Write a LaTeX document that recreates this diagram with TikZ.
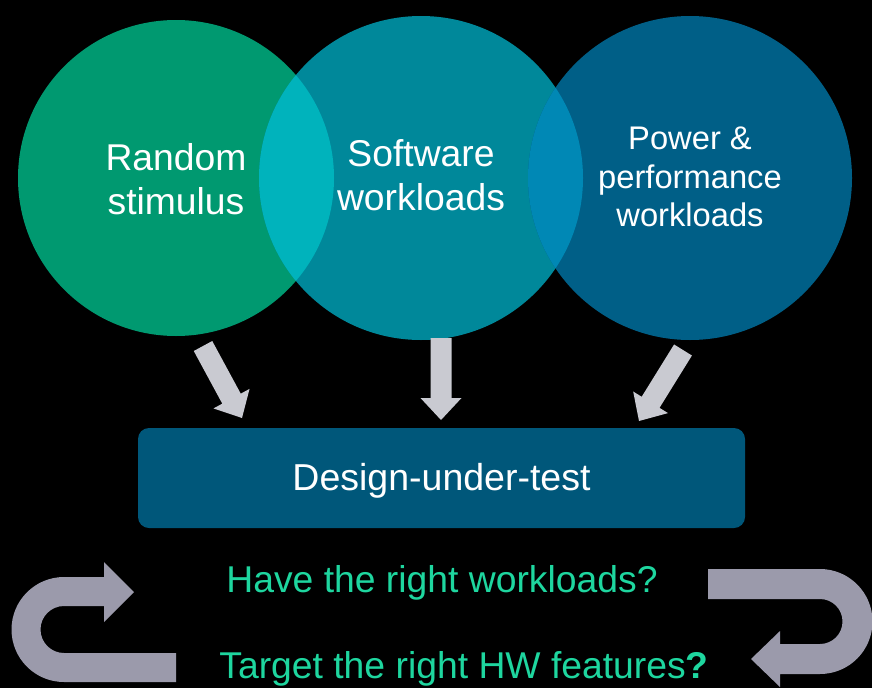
\documentclass[tikz,border=0pt]{standalone}
\usepackage{fontspec}
\setmainfont{Liberation Sans}
\usetikzlibrary{calc}

\definecolor{cgreen}{HTML}{009970}
\definecolor{cteal}{HTML}{00889A}
\definecolor{cblue}{HTML}{005F87}
\definecolor{ovA}{HTML}{00B3BC}
\definecolor{ovB}{HTML}{0088B5}
\definecolor{boxblue}{HTML}{00577A}
\definecolor{arrowgrey}{HTML}{C9CAD1}
\definecolor{turngrey}{HTML}{9B9AAB}
\definecolor{qgreen}{HTML}{1ED69F}

% thick block arrow from #1 (tail) to #2 (tip)
\newcommand\fatarrow[2]{%
  \coordinate (hb) at ($(#2)!22pt!(#1)$);
  \fill[arrowgrey]
    ($(#1)!10.5pt!90:(#2)$) --
    ($(hb)!10.5pt!90:(#2)$) --
    ($(hb)!20.5pt!90:(#2)$) --
    (#2) --
    ($(hb)!20.5pt!-90:(#2)$) --
    ($(hb)!10.5pt!-90:(#2)$) --
    ($(#1)!10.5pt!-90:(#2)$) -- cycle;
}

\begin{document}
\begin{tikzpicture}[x=1pt,y=-1pt,
  circtext/.style={text=white, align=center, font=\fontsize{37.3}{44}\selectfont},
  smalltext/.style={text=white, align=center, font=\fontsize{32.7}{38.5}\selectfont},
  qtext/.style={text=qgreen, font=\fontsize{37.3}{44}\selectfont, inner sep=0pt}]
\fill[black] (0,0) rectangle (872,688);
\useasboundingbox (0,0) rectangle (872,688);

% three overlapping circles
\coordinate (cA) at (176,178);
\coordinate (cB) at (421,178);
\coordinate (cC) at (690,178);
\fill[cgreen] (cA) circle[radius=158];
\fill[cteal]  (cB) circle[radius=162];
\fill[cblue]  (cC) circle[radius=162];
\begin{scope}
  \clip (cA) circle[radius=158];
  \fill[ovA] (cB) circle[radius=162];
\end{scope}
\begin{scope}
  \clip (cB) circle[radius=162];
  \fill[ovB] (cC) circle[radius=162];
\end{scope}

\node[circtext] (rand) at (176,179) {Random\\stimulus};
\node[circtext] (soft) at (421,175) {Software\\workloads};
\node[smalltext] (power) at (690,177) {Power \&\\performance\\workloads};

% design-under-test block
\node[fill=boxblue, rounded corners=11pt, minimum width=607pt, minimum height=100pt] (dut) at (441.5,478) {};
\node[text=white, font=\fontsize{37.5}{44}\selectfont] (dutlabel) at ($(dut.center)+(0,3)$) {Design-under-test};

% arrows from the circles into the block
\coordinate (aLt) at (203,346);
\coordinate (aLh) at (242,418);
\coordinate (aMt) at (441,338);
\coordinate (aMh) at (441,420);
\coordinate (aRt) at (683,350);
\coordinate (aRh) at (639,421);
\fatarrow{aLt}{aLh}
\fatarrow{aMt}{aMh}
\fatarrow{aRt}{aRh}

% questions
\node[qtext] (q1) at (442,583) {Have the right workloads?};
\node[qtext] (q2) at (464,669) {Target the right HW features\textbf{?}};

% U-turn arrows
\fill[turngrey] (176,682) -- (64,682)
  arc[start angle=90, end angle=270, radius=52.5]
  -- (104,577) -- (104,562) -- (134,592) -- (104,622) -- (104,606) -- (64,606)
  arc[start angle=270, end angle=90, radius=23.5]
  -- (176,653) -- cycle;
\fill[turngrey] (708,569) -- (820,569)
  arc[start angle=-90, end angle=90, radius=52.5]
  -- (780,674) -- (780,687) -- (751,659) -- (780,631) -- (780,644) -- (820,644)
  arc[start angle=90, end angle=-90, radius=22.5]
  -- (708,599) -- cycle;
\end{tikzpicture}
\end{document}
